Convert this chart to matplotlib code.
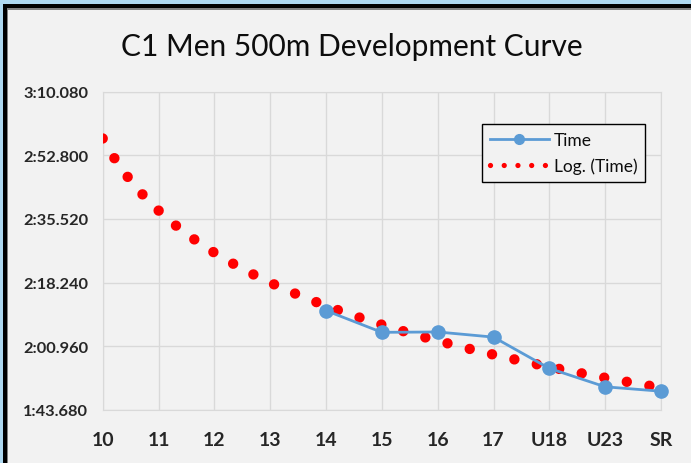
import numpy as np
import matplotlib
matplotlib.use("Agg")
import matplotlib.pyplot as plt
from matplotlib.lines import Line2D
from matplotlib.patches import Rectangle
from matplotlib.ticker import FuncFormatter

# Données (temps en secondes)
categories = ['10', '11', '12', '13', '14', '15', '16', '17', 'U18', 'U23', 'SR']
times = [None, None, None, None, 130.6, 124.7, 124.8, 123.4, 114.9, 109.9, 108.7]
y_min, y_step, n_ticks = 103.68, 17.28, 6

blue = '#5B9BD5'
red = '#FF0000'
grid_col = '#D9D9D9'

plt.rcParams['font.family'] = ['Lato', 'DejaVu Sans']

fig = plt.figure(figsize=(6.91, 4.64), dpi=100)
W, H = 691, 464
fig.patch.set_facecolor('#AED8F0')
# cadre noir + fond gris clair
fig.add_artist(Rectangle((2.7 / W, 0), 1, 1 - 5 / H, transform=fig.transFigure,
                         facecolor='black', edgecolor='none', zorder=-3))
fig.add_artist(Rectangle((7.3 / W, 0), 1, 1 - 9.3 / H, transform=fig.transFigure,
                         facecolor='#808080', edgecolor='none', zorder=-2))
fig.add_artist(Rectangle((8.3 / W, 0), 1, 1 - 10.5 / H, transform=fig.transFigure,
                         facecolor='#F2F2F2', edgecolor='none', zorder=-1))

ax = fig.add_axes([102.7 / W, 1 - 410.7 / H, 558.3 / W, 318 / H])
ax.set_facecolor('none')

x_idx = np.arange(len(categories))
t = np.array([np.nan if v is None else v for v in times])

# Courbe de tendance logarithmique (comme Excel : x = 1..n)
ok = ~np.isnan(t)
a, b = np.polyfit(np.log(x_idx[ok] + 1), t[ok], 1)
xs = np.linspace(0, len(categories) - 1, 400)
ax.plot(xs, a * np.log(xs + 1) + b, color=red, linewidth=7.5,
        linestyle=(0, (0.001, 2.2)), dash_capstyle='round', zorder=3)

# Série Time
ax.plot(x_idx[ok], t[ok], color=blue, linewidth=2, marker='o', markersize=9.5,
        zorder=4, clip_on=False)

ax.set_xlim(0, len(categories) - 1)
ax.set_ylim(y_min, y_min + y_step * (n_ticks - 1))
ax.set_yticks([y_min + y_step * i for i in range(n_ticks)])
ax.set_xticks(x_idx)
ax.set_xticklabels(categories)


def fmt_time(v, pos):
    m = int(v // 60)
    return f"{m}:{v - 60 * m:06.3f}"


ax.yaxis.set_major_formatter(FuncFormatter(fmt_time))
ax.grid(True, color=grid_col, linewidth=1)
ax.set_axisbelow(True)
for s in ax.spines.values():
    s.set_color(grid_col)
ax.tick_params(length=0)
ax.tick_params(axis='y', pad=10.5, labelsize=11.8, labelcolor='#262626')
ax.tick_params(axis='x', pad=15, labelsize=14, labelcolor='#262626')
for lbl in ax.get_xticklabels() + ax.get_yticklabels():
    lbl.set_fontweight('bold')

# Légende
h_time = Line2D([], [], color=blue, linewidth=2, marker='o', markersize=7)
h_log = Line2D([], [], color=red, linewidth=3.8, linestyle=(0, (0.001, 2.6)),
               dash_capstyle='round')
leg = ax.legend([h_time, h_log], ['Time', 'Log. (Time)'], loc='upper left',
                bbox_to_anchor=(0.679, 0.898), borderaxespad=0, fontsize=12.5,
                frameon=True, fancybox=False, framealpha=1, facecolor='#F2F2F2',
                edgecolor='black', handlelength=3.4, handletextpad=0.3,
                labelspacing=0.55, borderpad=0.45)
leg.get_frame().set_linewidth(1)
for txt in leg.get_texts():
    txt.set_color('#0D0D0D')

fig.text(352 / W, 1 - 47 / H, 'C1 Men 500m Development Curve', fontsize=21.5,
         ha='center', va='center', color='#0D0D0D')

fig.savefig('out.png', dpi=100, facecolor=fig.get_facecolor())
